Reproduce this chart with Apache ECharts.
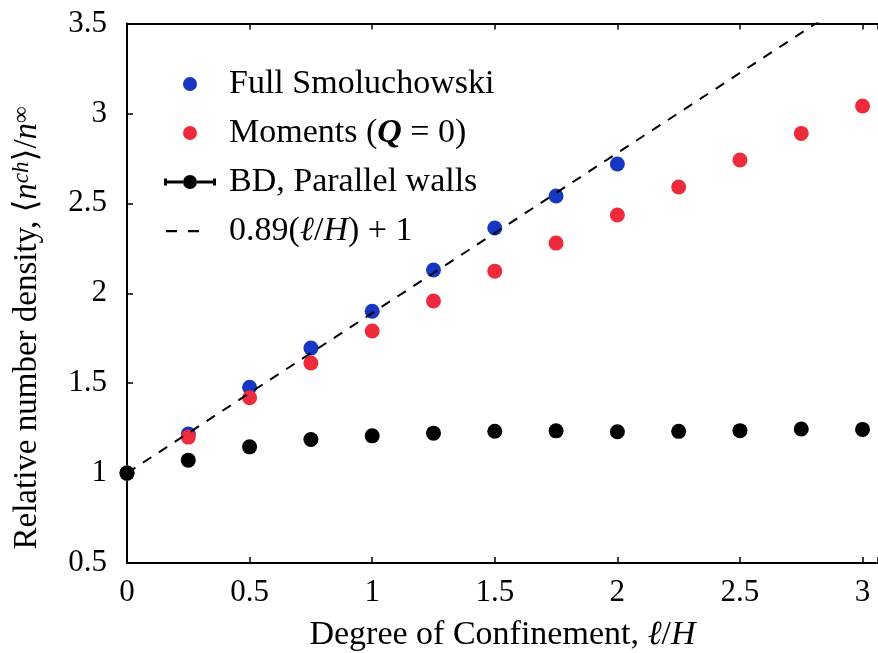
<!DOCTYPE html>
<html>
<head>
<meta charset="utf-8">
<script src="https://cdn.jsdelivr.net/npm/echarts@6/dist/echarts.min.js"></script>
<style>
  html, body { margin: 0; padding: 0; background: #fff; }
  #chart { width: 878px; height: 653px; }
</style>
</head>
<body>
<div id="chart"></div>
<script>
// Degree of confinement (l/H) sampled for each model
var xSmol = [0, 0.25, 0.5, 0.75, 1.0, 1.25, 1.5, 1.75, 2.0];
var ySmol = [1.0, 1.217, 1.477, 1.695, 1.90, 2.129, 2.363, 2.541, 2.719];

var xMoments = [0, 0.25, 0.5, 0.75, 1.0, 1.25, 1.5, 1.75, 2.0, 2.25, 2.5, 2.75, 3.0];
var yMoments = [1.0, 1.20, 1.419, 1.612, 1.79, 1.957, 2.123, 2.279, 2.435, 2.591, 2.741, 2.889, 3.041];

var xBD = [0, 0.25, 0.5, 0.75, 1.0, 1.25, 1.5, 1.75, 2.0, 2.25, 2.5, 2.75, 3.0];
var yBD = [1.0, 1.072, 1.146, 1.187, 1.207, 1.222, 1.233, 1.235, 1.23, 1.232, 1.236, 1.245, 1.243];

// Linear fit 0.89(l/H) + 1
var fitSlope = 0.89;
var fitIntercept = 1;
var fitX = [0, 3.063];

var yTicks = [0.5, 1, 1.5, 2, 2.5, 3, 3.5];
var xTicks = [0, 0.5, 1, 1.5, 2, 2.5, 3];

var names = ['Full Smoluchowski', 'Moments (Q = 0)', 'BD, Parallel walls', '0.89(ℓ/H) + 1'];

function pairs(xs, ys) { return xs.map(function (x, i) { return [x, ys[i]]; }); }

var FONT = '"Liberation Serif", "DejaVu Serif", serif';
var BLUE = '#1637c2';
var RED = '#ee2b3d';
var TITLE_SIZE = 34;
var TICK_SIZE = 31;

var chart = echarts.init(document.getElementById('chart'), null, { renderer: 'canvas' });

var option = {
  animation: false,
  backgroundColor: '#ffffff',
  textStyle: { fontFamily: FONT },
  grid: { left: 127, right: 0, top: 23.5, bottom: 90, outerBoundsMode: 'none', containLabel: false },
  legend: {
    orient: 'vertical',
    left: 159,
    top: 62,
    itemWidth: 52,
    itemHeight: 14,
    itemGap: 15,
    symbolKeepAspect: true,
    selectedMode: false,
    textStyle: {
      fontFamily: FONT, fontSize: TITLE_SIZE, color: '#000', padding: [0, 0, 0, 8],
      rich: {
        bi: { fontFamily: FONT, fontSize: TITLE_SIZE, fontStyle: 'italic', fontWeight: 'bold', color: '#000' },
        i: { fontFamily: FONT, fontSize: TITLE_SIZE, fontStyle: 'italic', color: '#000' }
      }
    },
    formatter: function (name) {
      if (name === names[1]) return 'Moments ({bi|Q} = 0)';
      if (name === names[3]) return '0.89({i|ℓ}/{i|H}) + 1';
      return name;
    },
    data: [
      { name: names[0], icon: 'circle', itemStyle: { color: BLUE } },
      { name: names[1], icon: 'circle', itemStyle: { color: RED } },
      { name: names[2], itemStyle: { color: '#000' },
        icon: 'path://M0,3.5h3v7h-3z M3,5.5h16v3h-16z M33,5.5h16v3h-16z M49,3.5h3v7h-3z M19,7a7,7 0 1,0 14,0a7,7 0 1,0 -14,0z' },
      { name: names[3], itemStyle: { color: '#000' },
        icon: 'path://M0,0M52,14M2,6h11v2.2h-11z M24,6h11v2.2h-11z' }
    ]
  },
  graphic: [
    {
      type: 'text', x: 27, y: 328, rotation: Math.PI / 2, silent: true,
      style: {
        text: 'Relative number density, ⟨{i|n}{sup|ch}⟩/{i|n}{sup|∞}',
        fontFamily: FONT, fontSize: 33, fill: '#000',
        align: 'center', verticalAlign: 'middle',
        rich: {
          i: { fontFamily: FONT, fontSize: 33, fontStyle: 'italic', fill: '#000' },
          sup: { fontFamily: FONT, fontSize: 23, fontStyle: 'italic', fill: '#000', verticalAlign: 'top' }
        }
      }
    }
  ],
  xAxis: [
    {
      type: 'value', position: 'bottom', min: 0, max: fitX[1], interval: 0.5,
      name: 'Degree of Confinement, {i|ℓ}/{i|H}',
      nameLocation: 'middle', nameGap: 55,
      nameTextStyle: {
        fontFamily: FONT, fontSize: TITLE_SIZE, color: '#000',
        rich: { i: { fontFamily: FONT, fontSize: TITLE_SIZE, fontStyle: 'italic', color: '#000' } }
      },
      splitLine: { show: false },
      axisLine: { show: true, onZero: false, lineStyle: { color: '#000', width: 2 } },
      axisTick: { show: true, inside: true, length: 6, lineStyle: { color: '#000', width: 1.5 } },
      axisLabel: {
        margin: 14, fontFamily: FONT, fontSize: TICK_SIZE, color: '#000',
        formatter: function (v) { return xTicks.indexOf(v) >= 0 ? String(v) : ''; }
      }
    },
    {
      type: 'value', position: 'top', min: 0, max: fitX[1], interval: 0.5,
      splitLine: { show: false },
      axisLine: { show: true, onZero: false, lineStyle: { color: '#000', width: 2 } },
      axisTick: { show: true, inside: true, length: 6, lineStyle: { color: '#000', width: 1.5 } },
      axisLabel: { show: false }
    }
  ],
  yAxis: {
    type: 'value', min: yTicks[0], max: yTicks[yTicks.length - 1], interval: 0.5,
    splitLine: { show: false },
    axisLine: { show: true, onZero: false, lineStyle: { color: '#000', width: 2 } },
    axisTick: { show: true, inside: true, length: 6, lineStyle: { color: '#000', width: 1.5 } },
    axisLabel: { margin: 20, fontFamily: FONT, fontSize: TICK_SIZE, color: '#000' }
  },
  series: [
    {
      name: names[0], type: 'scatter', z: 2, symbol: 'circle', symbolSize: 15,
      itemStyle: { color: BLUE, opacity: 1 },
      data: pairs(xSmol, ySmol)
    },
    {
      name: names[1], type: 'scatter', z: 3, symbol: 'circle', symbolSize: 15,
      itemStyle: { color: RED, opacity: 1 },
      data: pairs(xMoments, yMoments)
    },
    {
      name: names[3], type: 'line', z: 4, symbol: 'none', clip: true,
      lineStyle: { color: '#000', width: 2, type: [10, 9] },
      data: fitX.map(function (x) { return [x, fitSlope * x + fitIntercept]; })
    },
    {
      name: names[2], type: 'scatter', z: 5, symbol: 'circle', symbolSize: 15,
      itemStyle: { color: '#000', opacity: 1 },
      data: pairs(xBD, yBD)
    }
  ]
};

chart.setOption(option);
</script>
</body>
</html>
